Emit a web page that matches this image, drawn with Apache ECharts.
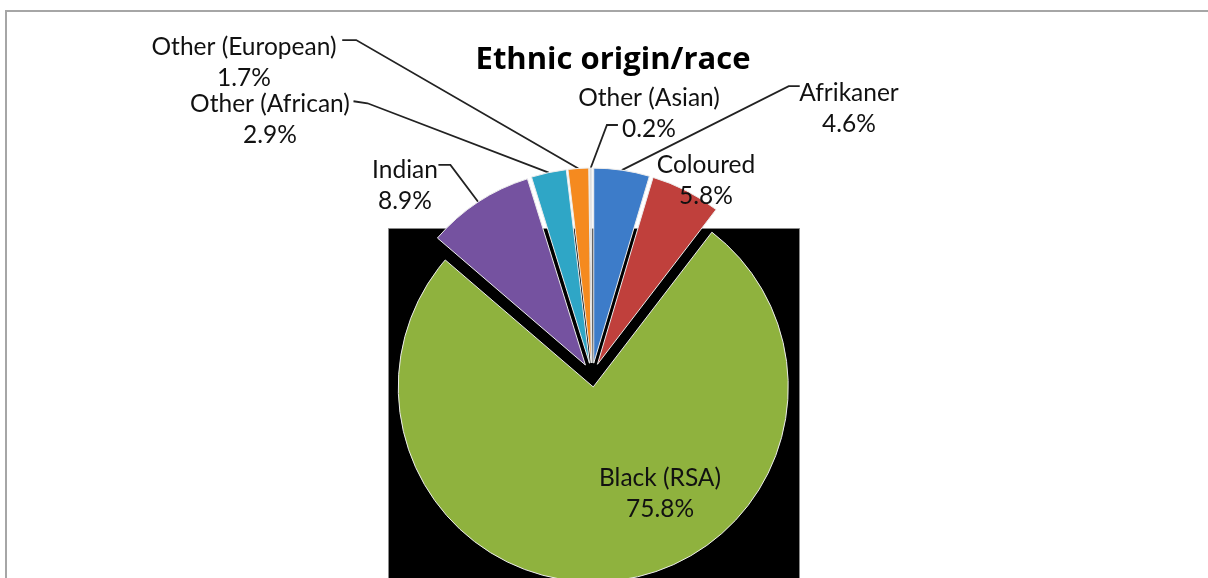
<!DOCTYPE html>
<html>
<head>
<meta charset="utf-8">
<script src="https://cdn.jsdelivr.net/npm/echarts@6/dist/echarts.min.js"></script>
<style>
html,body{margin:0;padding:0;background:#fff;}
#chart{width:1208px;height:578px;}
</style>
</head>
<body>
<div id="chart"></div>
<script>
const titleText = 'Ethnic origin/race';
const categories = ['Afrikaner', 'Coloured', 'Black (RSA)', 'Indian', 'Other (African)', 'Other (European)', 'Other (Asian)'];
const values = [4.6, 5.8, 75.8, 8.9, 2.9, 1.7, 0.2];
const colors = ['#3d7cc9', '#c0403c', '#8fb23e', '#7552a0', '#2fa6c6', '#f58a1f', '#dcdcdc'];
// label block centers
const labelPos = [[849, 109], [706, 181], [660, 494], [405, 186], [270, 120], [244, 63], [649, 114]];
// leader line bend and end points (null = no leader)
const leaderPts = [[[787, 98], [798, 98]], null, null, [[457, 175], [445, 175]], [[370, 115], [356, 113]], [[357, 52], [343, 52]], [[607, 137], [618, 137]]];

const CENTER = [592, 375];
const OFFSET = 12;
const total = values.reduce((a, b) => a + b, 0);
const cum = [];
values.reduce((acc, v, i) => { cum[i] = acc; return acc + v; }, 0);

const chart = echarts.init(document.getElementById('chart'), null, {renderer: 'canvas'});
const data = categories.map((c, i) => ({
  name: c,
  value: values[i],
  selected: true,
  itemStyle: {color: colors[i]},
  labelLine: {show: leaderPts[i] !== null},
  label: c === 'Black (RSA)' ? {position: 'inside'} : {}
}));

chart.setOption({
  animation: false,
  title: {
    text: titleText,
    left: 608,
    top: 40,
    textAlign: 'center',
    textStyle: {fontFamily: 'Open Sans', fontWeight: 'bold', fontSize: 31, color: '#000'}
  },
  graphic: [
    {type: 'rect', left: 5, top: 10, z: -10, shape: {x: 0, y: 0, width: 1220, height: 600},
      style: {fill: '#fff', stroke: '#a6a6a6', lineWidth: 2}},
    {type: 'rect', left: 388, top: 228, z: -5, shape: {x: 0, y: 0, width: 411, height: 360},
      style: {fill: '#000', stroke: '#8a8a8a', lineWidth: 1}}
  ],
  series: [{
    type: 'pie',
    center: CENTER,
    radius: [0, 195],
    startAngle: 90,
    clockwise: true,
    selectedMode: 'multiple',
    selectedOffset: OFFSET,
    avoidLabelOverlap: false,
    data: data,
    itemStyle: {borderColor: '#ececec', borderWidth: 1},
    emphasis: {disabled: true},
    label: {
      show: true,
      position: 'outside',
      formatter: '{b}\n{c}%',
      fontFamily: 'Lato',
      fontSize: 24.5,
      lineHeight: 31,
      color: '#111'
    },
    labelLine: {show: true, length: 15, length2: 12, lineStyle: {color: '#222', width: 1.8}},
    labelLayout: function (p) {
      const i = p.dataIndex;
      const pos = labelPos[i];
      const r = p.labelRect;
      const ang = Math.PI / 2 - 2 * Math.PI * (cum[i] + values[i] / 2) / total;
      const offX = Math.cos(ang) * OFFSET, offY = -Math.sin(ang) * OFFSET;
      const ax = p.align === 'right' ? r.x + r.width : (p.align === 'center' ? r.x + r.width / 2 : r.x);
      const cy = r.y + r.height / 2;
      const out = {align: 'center', dx: pos[0] - ax - offX, dy: pos[1] - cy - offY};
      if (leaderPts[i] && p.labelLinePoints) {
        const s = p.labelLinePoints[0];
        out.labelLinePoints = [[s[0], s[1]], leaderPts[i][0], leaderPts[i][1]];
      }
      return out;
    }
  }]
});
</script>
</body>
</html>
